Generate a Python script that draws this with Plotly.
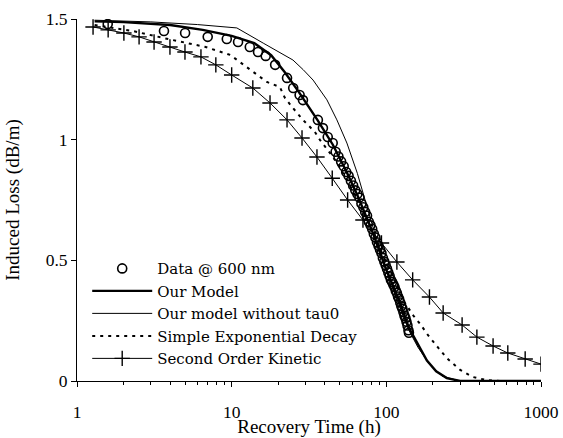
import plotly.graph_objects as go

# ---- data ----
data_t = [1.58, 3.65, 5.0, 7.0, 9.3, 11.0, 13.1, 14.8, 16.6, 19.1, 22.8, 25.0, 27.5, 28.9,
          36.1, 38.9, 41.8, 45.0,
          47, 49, 51, 53, 55, 57, 59, 61, 63, 65, 67, 69, 71, 73, 75, 77, 79, 81, 83, 85,
          87, 89, 91, 93, 95, 97, 99, 101, 103, 105, 107, 109, 111, 113, 115, 117, 119,
          121, 123, 125, 127, 129, 131, 133, 135, 137, 139, 140]
data_v = [1.479, 1.45, 1.442, 1.426, 1.417, 1.405, 1.384, 1.363, 1.347, 1.31, 1.256, 1.214, 1.185, 1.164,
          1.082, 1.048, 1.011, 0.986,
          0.95, 0.93, 0.91, 0.89, 0.866, 0.85, 0.83, 0.81, 0.79, 0.775, 0.76, 0.735, 0.72, 0.70,
          0.685, 0.66, 0.645, 0.63, 0.61, 0.595, 0.575, 0.56, 0.545, 0.53, 0.51, 0.495, 0.48,
          0.465, 0.45, 0.435, 0.42, 0.41, 0.40, 0.39, 0.375, 0.365, 0.35, 0.34, 0.325, 0.31,
          0.30, 0.285, 0.27, 0.26, 0.245, 0.23, 0.21, 0.20]

model_t = [1.3, 2, 4, 6.5, 10, 14, 18, 22, 27, 32, 36, 45, 55, 65, 80, 100, 120, 140, 160,
           183, 210, 246, 300, 1000]
model_v = [1.49, 1.487, 1.475, 1.455, 1.43, 1.40, 1.35, 1.28, 1.20, 1.13, 1.08, 0.98, 0.87,
           0.77, 0.63, 0.46, 0.34, 0.22, 0.15, 0.085, 0.04, 0.012, 0.0, 0.0]

notau_t = [1.3, 3, 6, 10.8, 16, 20, 24.9, 29, 33.6, 41.3, 47.9, 55.6, 65, 80, 100, 120, 140,
           160, 190, 230, 300, 1000]
notau_v = [1.495, 1.488, 1.477, 1.463, 1.40, 1.365, 1.33, 1.29, 1.247, 1.165, 1.082, 0.986,
           0.86, 0.66, 0.46, 0.32, 0.21, 0.14, 0.07, 0.02, 0.0, 0.0]

exp_t = [1.3, 2.3, 4, 6.7, 9.8, 14.8, 16.9, 20.5, 22.1, 24.9, 28.9, 34.5, 37.2, 45, 55, 65,
         80, 100, 115, 130, 150, 166, 186, 215, 246, 300, 360, 450, 550, 1000]
exp_v = [1.475, 1.45, 1.415, 1.385, 1.351, 1.268, 1.239, 1.218, 1.173, 1.131, 1.082, 1.032,
         0.999, 0.93, 0.84, 0.75, 0.63, 0.49, 0.41, 0.33, 0.27, 0.235, 0.19, 0.14, 0.095,
         0.046, 0.017, 0.003, 0.0, 0.0]

sok_t = [1.27, 1.59, 2.01, 2.52, 3.15, 3.99, 4.99, 6.33, 7.9, 10.0, 13.7, 17.7, 22.8, 28.5,
         35.6, 44.7, 56.2, 70.6, 93, 117, 148, 190, 233, 309, 385, 490, 610, 790, 1000]
sok_v = [1.467, 1.455, 1.442, 1.426, 1.405, 1.384, 1.363, 1.343, 1.310, 1.268, 1.214, 1.152,
         1.082, 1.007, 0.928, 0.84, 0.75, 0.667, 0.572, 0.493, 0.419, 0.348, 0.282, 0.232,
         0.182, 0.145, 0.116, 0.091, 0.070]

x_ticks = [1, 10, 100, 1000]
x_ticktext = ["1", "10", "100", "1000"]
y_ticks = [0, 0.5, 1, 1.5]
y_ticktext = ["0", "0.5", "1", "1.5"]
x_minor = [2, 3, 4, 5, 6, 7, 8, 9, 20, 30, 40, 50, 60, 70, 80, 90,
           200, 300, 400, 500, 600, 700, 800, 900]

FONT = "Liberation Serif"
LEGFONT = "DejaVu Serif"

fig = go.Figure()

fig.add_trace(go.Scatter(x=model_t, y=model_v, mode="lines", name="Our Model",
                         line=dict(color="black", width=2.4), legendrank=2))
fig.add_trace(go.Scatter(x=notau_t, y=notau_v, mode="lines", name="Our model without tau0",
                         line=dict(color="black", width=1), legendrank=3))
fig.add_trace(go.Scatter(x=exp_t, y=exp_v, mode="lines", name="Simple Exponential Decay",
                         line=dict(color="black", width=2, dash="3px,5px"), legendrank=4))
fig.add_trace(go.Scatter(x=sok_t, y=sok_v, mode="lines+markers", name="Second Order Kinetic",
                         line=dict(color="black", width=1),
                         marker=dict(symbol="cross-thin", size=11,
                                     line=dict(color="black", width=1.4)),
                         legendrank=5))
fig.add_trace(go.Scatter(x=data_t, y=data_v, mode="markers", name="Data @ 600 nm",
                         marker=dict(symbol="circle-open", size=9, color="black",
                                     line=dict(color="black", width=1.6)),
                         legendrank=1))

axis_common = dict(showgrid=False, zeroline=False, showline=True, linecolor="black",
                   linewidth=1, ticks="outside", ticklen=5, tickcolor="black",
                   automargin=False,
                   tickfont=dict(family=FONT, size=17.5, color="black"))

fig.update_layout(
    width=563, height=438,
    margin=dict(l=77, r=22, t=19, b=57),
    paper_bgcolor="white", plot_bgcolor="white",
    font=dict(family=FONT, size=16, color="black"),
    showlegend=True,
    legend=dict(x=0.022, y=0.356, xanchor="left", yanchor="top",
                bgcolor="rgba(0,0,0,0)", font=dict(family=LEGFONT, size=15, color="black"),
                tracegroupgap=0, itemwidth=60),
    xaxis=dict(type="log", range=[0, 3], tickmode="array", tickvals=x_ticks,
               ticktext=x_ticktext, ticklabelstandoff=10,
               minor=dict(tickmode="array", tickvals=x_minor, ticks="outside",
                          ticklen=3, tickcolor="black"),
               title=dict(text="Recovery Time (h)", standoff=0,
                          font=dict(family=FONT, size=19, color="black")),
               **axis_common),
    yaxis=dict(range=[0, 1.5], tickmode="array", tickvals=y_ticks, ticktext=y_ticktext,
               title=dict(text="Induced Loss (dB/m)", standoff=20,
                          font=dict(family=FONT, size=19, color="black")),
               **axis_common),
    xaxis2=dict(type="log", range=[0, 3], overlaying="x", showgrid=False, zeroline=False,
                showline=False, ticks="inside", ticklen=4, tickcolor="black",
                tickmode="array", tickvals=x_ticks, showticklabels=False, side="bottom",
                automargin=False),
    yaxis2=dict(range=[0, 1.5], overlaying="y", showgrid=False, zeroline=False,
                showline=False, ticks="inside", ticklen=4, tickcolor="black",
                tickmode="array", tickvals=y_ticks, showticklabels=False, side="left",
                automargin=False),
)

fig.write_html("out.html")
